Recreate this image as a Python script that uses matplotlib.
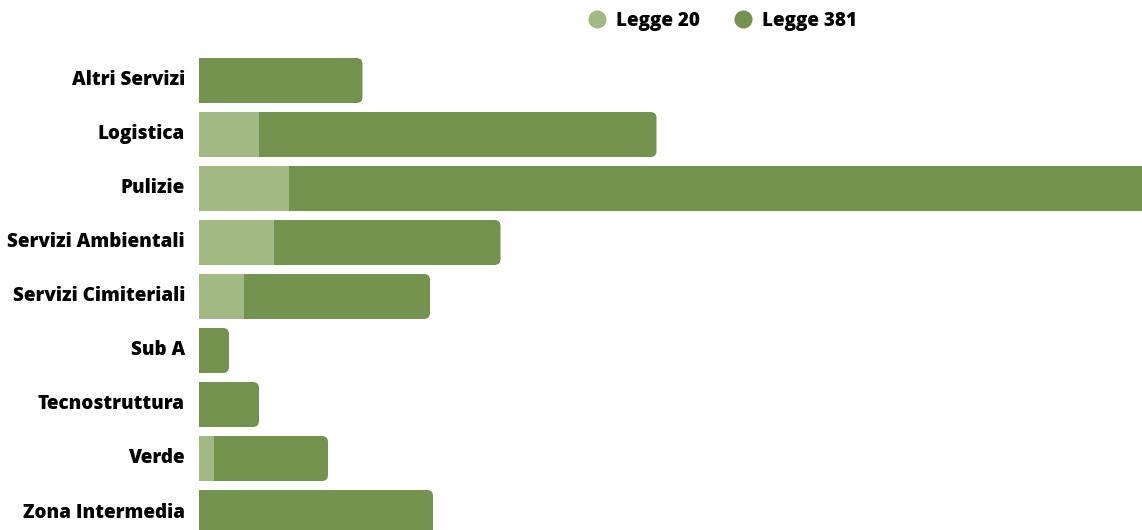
import matplotlib
matplotlib.use('Agg')
import matplotlib.pyplot as plt
from matplotlib.patches import FancyBboxPatch
from matplotlib.lines import Line2D

plt.rcParams['font.family'] = ['Open Sans', 'DejaVu Sans']

categorie = ["Altri Servizi", "Logistica", "Pulizie", "Servizi Ambientali",
             "Servizi Cimiteriali", "Sub A", "Tecnostruttura", "Verde",
             "Zona Intermedia"]
legge_20 = [0, 4, 6, 5, 3, 0, 0, 1, 0]
legge_381 = [10.9, 26.5, 58, 15.1, 12.4, 2.0, 4.0, 7.6, 15.6]

colore_20 = "#a3b984"
colore_381 = "#72924d"

fig = plt.figure(figsize=(11.42, 5.30), dpi=100)
ax = fig.add_axes([199 / 1142, 0, 1 - 199 / 1142, 1])

altezza = 45 / 54
x_max = (1142 - 199) / 15
ax.set_xlim(0, x_max)
ax.set_ylim((530 - 80.5) / 54, -80.5 / 54)

# barra scura arrotondata a destra, poi la parte chiara sopra
for i, (a, b) in enumerate(zip(legge_20, legge_381)):
    totale = a + b
    r = 0.4
    patch = FancyBboxPatch((-2, i - altezza / 2), totale + 2, altezza,
                           boxstyle=f"round,pad=0,rounding_size={r}",
                           mutation_aspect=(6 / 54) / r,
                           facecolor=colore_381, edgecolor="none")
    ax.add_patch(patch)
ax.barh(range(len(categorie)), legge_20, height=altezza, color=colore_20,
        edgecolor="none")

for i, nome in enumerate(categorie):
    ax.text(-14 / 15, i, nome, ha="right", va="center", fontsize=13.6,
            fontweight="heavy", color="black")

ax.axis("off")

maniglie = [Line2D([], [], marker="o", linestyle="none", markersize=13,
                   markerfacecolor=c, markeredgecolor="none")
            for c in (colore_20, colore_381)]
fig.legend(maniglie, ["Legge 20", "Legge 381"], loc="center",
           bbox_to_anchor=(721 / 1142, 1 - 21 / 530), ncol=2, frameon=False,
           handletextpad=0.4, columnspacing=1.7, handlelength=1.2,
           prop={"size": 13.6, "weight": "heavy"})

fig.savefig("out.png", dpi=100)
